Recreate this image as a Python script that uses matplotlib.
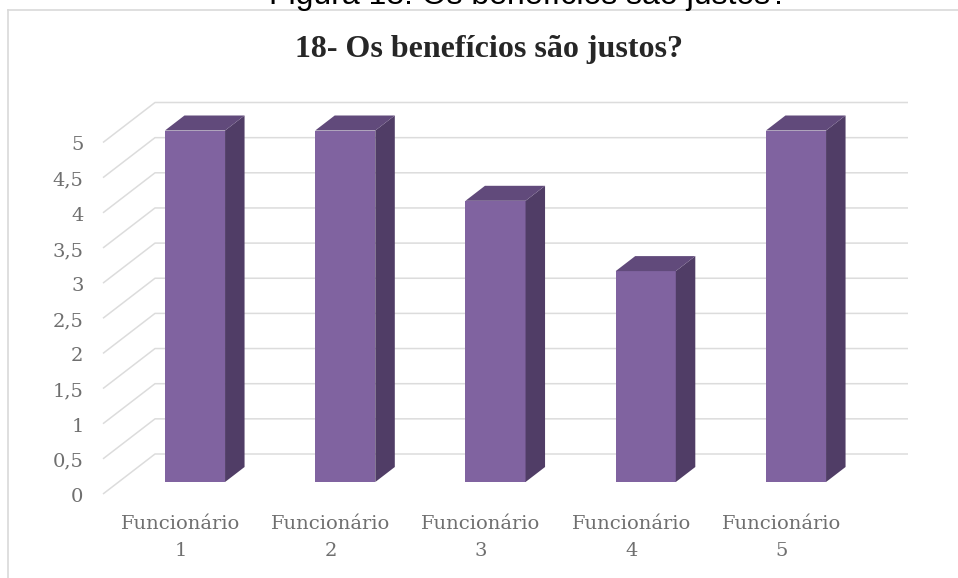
import matplotlib
matplotlib.use("Agg")
import matplotlib.pyplot as plt
from matplotlib.lines import Line2D
from matplotlib.patches import Polygon
from matplotlib.transforms import ScaledTranslation

categories = ["Funcionário\n1", "Funcionário\n2", "Funcionário\n3", "Funcionário\n4", "Funcionário\n5"]
values = [5, 5, 4, 3, 5]
y_ticks = [0, 0.5, 1, 1.5, 2, 2.5, 3, 3.5, 4, 4.5, 5]
y_tick_labels = ["0", "0,5", "1", "1,5", "2", "2,5", "3", "3,5", "4", "4,5", "5"]
chart_title = "18- Os benefícios são justos?"
caption = "Figura 18: Os benefícios são justos?"

W, H = 958, 578
PX_X, PX_Y = 150.25, 70.3      # pixels per category / per value unit
X0, Y0 = 195, 482              # pixel position of the first bar centre / value 0

fig = plt.figure(figsize=(W / 100, H / 100), dpi=100, facecolor="white")
left, right, top, bottom = 103, 908, 103, 494
ax = fig.add_axes([left / W, 1 - bottom / H, (right - left) / W, (bottom - top) / H])
ax.set_xlim((left - X0) / PX_X, (right - X0) / PX_X)
ax.set_ylim((Y0 - bottom) / PX_Y, (Y0 - top) / PX_Y)
ax.patch.set_alpha(0)
for s in ax.spines.values():
    s.set_visible(False)

dx, dy = 1 / PX_X, 1 / PX_Y
x_l, x_r = ax.get_xlim()

# gridlines: along the floor, then along the back wall
for v in y_ticks:
    ax.plot([x_l, x_l + 52 * dx, x_r],
            [v - 12 * dy, v + 28 * dy, v + 28 * dy],
            color="#dcdcdc", lw=1.1, zorder=1, clip_on=False,
            solid_joinstyle="round", solid_capstyle="butt")

# bars: front, side, top
bar_w = 0.4
depth_x, depth_y = 19.5 * dx, 15 * dy
for i, v in enumerate(values):
    a, b = i - bar_w / 2, i + bar_w / 2
    ax.bar(i, v, width=bar_w, color="#8063A0", linewidth=0, zorder=3)
    ax.add_patch(Polygon([(b, 0), (b + depth_x, depth_y), (b + depth_x, v + depth_y), (b, v)],
                         closed=True, facecolor="#503D66", edgecolor="none", zorder=3))
    ax.add_patch(Polygon([(a, v), (b, v), (b + depth_x, v + depth_y), (a + depth_x, v + depth_y)],
                         closed=True, facecolor="#614A7B", edgecolor="none", zorder=3))

label_font = dict(family="DejaVu Serif", color="#6f6f6f")
ax.set_xticks(range(len(categories)))
ax.set_xticklabels(categories, linespacing=1.68, fontsize=14, **label_font)
ax.set_yticks(y_ticks)
ax.set_yticklabels(y_tick_labels, fontsize=14, **label_font)
ax.tick_params(axis="x", length=0, pad=15)
ax.tick_params(axis="y", length=0, pad=14)
y_shift = ScaledTranslation(0, -13 / 100, fig.dpi_scale_trans)
for lab in ax.get_yticklabels():
    lab.set_transform(lab.get_transform() + y_shift)
x_shift = ScaledTranslation(-14.5 / 100, 0, fig.dpi_scale_trans)
for lab in ax.get_xticklabels():
    lab.set_transform(lab.get_transform() + x_shift)

# chart frame (top and left edges are the only ones visible)
frame = dict(color="#d9d9d9", lw=1.2, transform=fig.transFigure)
fig.add_artist(Line2D([8 / W, 1], [1 - 10 / H, 1 - 10 / H], **frame))
fig.add_artist(Line2D([8 / W, 8 / W], [1 - 10 / H, 0], **frame))

fig.text(488.5 / W, 1 - 57 / H, chart_title, family="Liberation Serif", weight="bold",
         fontsize=23, color="#262626", ha="center", va="baseline")
fig.text(528.5 / W, 1 - 4 / H, caption, family="Liberation Sans",
         fontsize=23, color="black", ha="center", va="baseline")

fig.savefig("out.png", dpi=100)
